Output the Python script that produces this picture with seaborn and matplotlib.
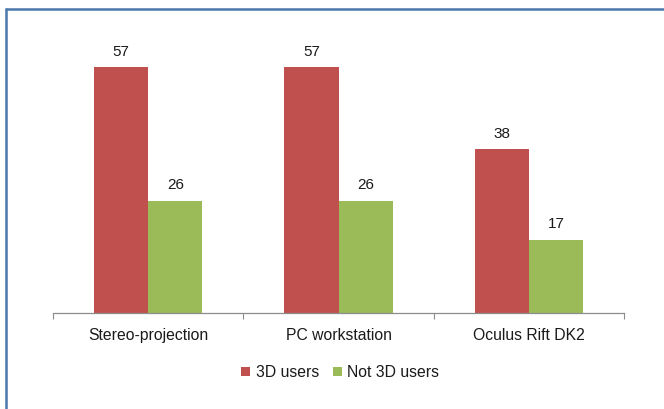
import numpy as np
import pandas as pd
import matplotlib
matplotlib.use("Agg")
import matplotlib.pyplot as plt
from matplotlib.lines import Line2D
from matplotlib.ticker import FixedLocator
import seaborn as sns

# data
devices = ["Stereo-projection", "PC workstation", "Oculus Rift DK2"]
users_3d = [57, 57, 38]
not_users_3d = [26, 26, 17]
groups = ["3D users", "Not 3D users"]

df = pd.DataFrame({
    "device": devices * 2,
    "group": [groups[0]] * 3 + [groups[1]] * 3,
    "value": users_3d + not_users_3d,
})

sns.set_theme(style="white")
plt.rcParams["font.family"] = ["Liberation Sans", "DejaVu Sans"]

fig = plt.figure(figsize=(6.64, 4.09), dpi=100)
ax = fig.add_axes([53 / 664, 96 / 409, (624 - 53) / 664, (313 - 32.4) / 409])

sns.barplot(data=df, x="device", y="value", hue="group", order=devices,
            hue_order=groups, palette=["#C0504D", "#9BBB59"], width=0.57,
            gap=0, saturation=1, edgecolor="none", ax=ax)

for c in ax.containers:
    ax.bar_label(c, padding=6, fontsize=11, color="#1a1a1a")

ax.set_xlim(-0.5, 2.5)
ax.set_ylim(0, 65)
ax.set_xlabel("")
ax.set_ylabel("")
ax.set_yticks([])
ax.xaxis.set_major_locator(FixedLocator([-0.5, 0.5, 1.5, 2.5]))
ax.xaxis.set_minor_locator(FixedLocator([0, 1, 2]))
ax.set_xticklabels([], minor=False)
ax.set_xticklabels(devices, minor=True, fontsize=11.3, color="#1a1a1a")
ax.tick_params(axis="x", which="major", direction="out", length=4,
               width=0.8, color="#8c8c8c", bottom=True)
ax.tick_params(axis="x", which="minor", length=0, pad=11)
for s in ["top", "left", "right"]:
    ax.spines[s].set_visible(False)
ax.spines["bottom"].set_color("#8c8c8c")
ax.spines["bottom"].set_linewidth(0.9)

leg = ax.legend(loc="upper center", bbox_to_anchor=(0.503, -0.135), ncol=2,
                frameon=False, fontsize=11.3, handlelength=0.55,
                handleheight=0.55, handletextpad=0.35, columnspacing=0.9)
for t in leg.get_texts():
    t.set_color("#1a1a1a")

# blue frame
fig.add_artist(Line2D([6 / 664, 6 / 664], [0, 1 - 9 / 409], transform=fig.transFigure,
                      color="#4a78ad", lw=1.8))
fig.add_artist(Line2D([6 / 664, 1], [1 - 9 / 409, 1 - 9 / 409], transform=fig.transFigure,
                      color="#4a78ad", lw=1.8))

fig.savefig("out.png", dpi=100)
